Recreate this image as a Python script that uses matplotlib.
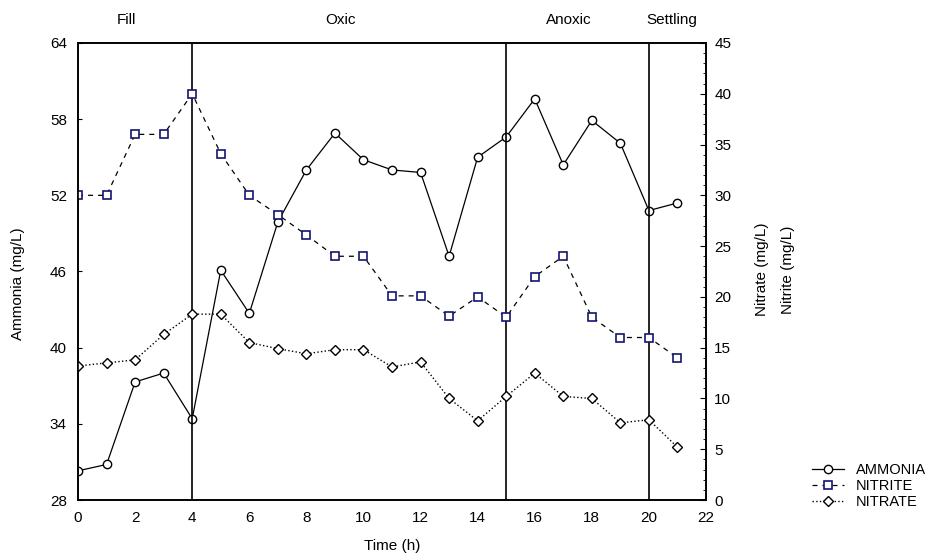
import matplotlib
matplotlib.use("Agg")
import matplotlib.pyplot as plt
import matplotlib.transforms as mtransforms
from matplotlib.ticker import MultipleLocator

plt.rcParams['font.family'] = ['Liberation Sans', 'DejaVu Sans']

# Data
time_h = list(range(22))
ammonia = [30.3, 30.8, 37.3, 38.0, 34.4, 46.1, 42.7, 49.9, 54.0, 56.9, 54.8,
           54.0, 53.8, 47.2, 55.0, 56.6, 59.6, 54.4, 57.9, 56.1, 50.8, 51.4]
nitrite = [30, 30, 36, 36, 40, 34.1, 30, 28.1, 26.1, 24, 24,
           20.1, 20.1, 18.1, 20, 18, 22, 24, 18, 16, 16, 14]
nitrate = [13.2, 13.5, 13.8, 16.3, 18.3, 18.3, 15.5, 14.9, 14.4, 14.8, 14.8,
           13.1, 13.6, 10.0, 7.8, 10.2, 12.5, 10.2, 10.0, 7.6, 7.9, 5.2]

phase_bounds = [4, 15, 20]
phase_names = ['Fill', 'Oxic', 'Anoxic', 'Settling']
phase_label_x = [1.7, 9.2, 17.2, 20.8]

fig = plt.figure(figsize=(9.46, 5.56), dpi=100)
ax = fig.add_axes([0.0825, 0.1007, 0.6638, 0.822])
ax2 = ax.twinx()

ln1, = ax.plot(time_h, ammonia, '-', color='black', lw=0.9, marker='o', ms=6,
               mfc='white', mec='black', mew=1.0, label='AMMONIA')
ln2, = ax2.plot(time_h, nitrite, '--', color='black', lw=0.9, dashes=(4, 4),
                marker='s', ms=6, mfc='white', mec='#14146e', mew=1.2, label='NITRITE')
ln3, = ax2.plot(time_h, nitrate, ':', color='black', lw=1.0, marker='D', ms=5,
                mfc='white', mec='black', mew=1.0, label='NITRATE')

for b in phase_bounds:
    ax.axvline(b, color='black', lw=1.2)

ax.set_xlim(0, 22)
ax.set_ylim(28, 64)
ax2.set_ylim(0, 45)
ax.set_xticks(range(0, 23, 2))
ax.set_yticks(range(28, 65, 6))
ax2.yaxis.set_major_locator(MultipleLocator(5))
ax2.yaxis.set_minor_locator(MultipleLocator(1))

ax.tick_params(axis='x', length=0, labelsize=11, pad=8)
ax.tick_params(axis='y', direction='in', length=3, labelsize=11, pad=8)
ax2.tick_params(axis='y', which='major', direction='in', length=4, labelsize=11, pad=6)
ax2.tick_params(axis='y', which='minor', direction='in', length=2)

for a in (ax, ax2):
    for s in a.spines.values():
        s.set_linewidth(1.2)

trans = mtransforms.blended_transform_factory(ax.transData, ax.transAxes)
for name, xp in zip(phase_names, phase_label_x):
    ax.text(xp, 1.05, name, transform=trans, ha='center', va='center', fontsize=11)

fig.text(0.019, 0.49, 'Ammonia (mg/L)', rotation=90, ha='center', va='center', fontsize=11)
fig.text(0.806, 0.515, 'Nitrate (mg/L)', rotation=90, ha='center', va='center', fontsize=11)
fig.text(0.833, 0.515, 'Nitrite (mg/L)', rotation=90, ha='center', va='center', fontsize=11)
fig.text(0.415, 0.018, 'Time (h)', ha='center', va='center', fontsize=11)

fig.legend(handles=[ln1, ln2, ln3], loc='upper left', bbox_to_anchor=(0.852, 0.178),
           frameon=False, fontsize=10.5, handlelength=2.2, handletextpad=0.8,
           labelspacing=0.15, borderaxespad=0)

fig.savefig('out.png', dpi=100)
